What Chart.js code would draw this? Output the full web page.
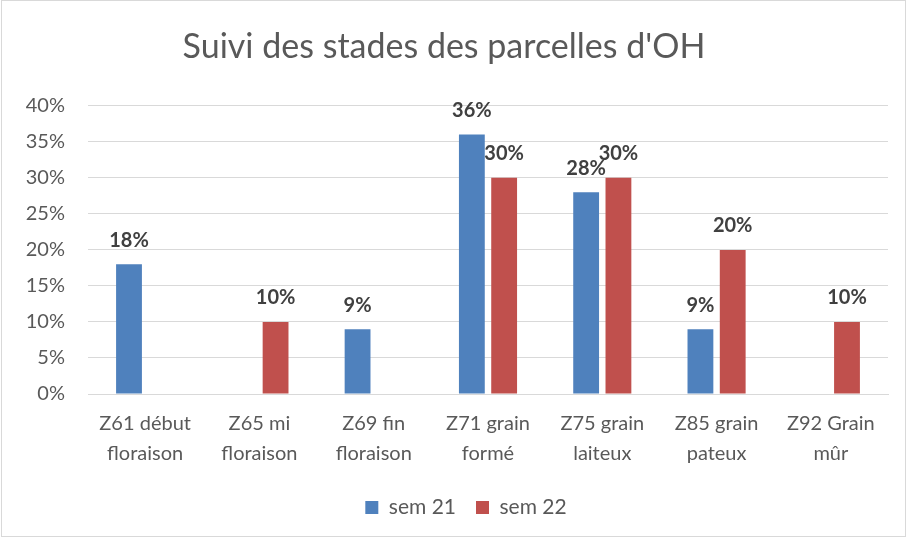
<!DOCTYPE html>
<html>
<head>
<meta charset="utf-8">
<script src="https://cdn.jsdelivr.net/npm/chart.js@4/dist/chart.umd.min.js"></script>
<style>
  html, body { margin: 0; padding: 0; background: #fff; }
  #wrap { width: 907px; height: 537px; }
</style>
</head>
<body>
<div id="wrap"><canvas id="stades"></canvas></div>
<script>
// categories (two lines each)
var categories = [
    ['Z61 début', 'floraison'],
    ['Z65 mi', 'floraison'],
    ['Z69 fin', 'floraison'],
    ['Z71 grain', 'formé'],
    ['Z75 grain', 'laiteux'],
    ['Z85 grain', 'pateux'],
    ['Z92 Grain', 'mûr']
];
var sem21 = [18, null, 9, 36, 28, 9, null];
var sem22 = [null, 10, null, 30, 30, 20, 10];
var yTicks = [0, 5, 10, 15, 20, 25, 30, 35, 40];

var FONT = 'Lato, "Open Sans", sans-serif';

// white background + thin outer border
var frame = {
    id: 'frame',
    beforeDraw: function (chart) {
        var c = chart.ctx;
        c.save();
        c.fillStyle = '#fff';
        c.fillRect(0, 0, chart.width, chart.height);
        c.strokeStyle = '#d9d9d9';
        c.lineWidth = 1;
        c.strokeRect(1.5, 0.5, chart.width - 3, chart.height - 1);
        c.restore();
    },
    // legend sits a bit right of centre and higher in the original
    afterLayout: function (chart) {
        chart.legend.left += 22;
        chart.legend.right += 22;
        chart.legend.top -= 9;
        chart.legend.bottom -= 9;
    }
};

// value labels above the bars
var valueLabels = {
    id: 'valueLabels',
    afterDatasetsDraw: function (chart) {
        var c = chart.ctx;
        c.save();
        c.font = 'bold 20px ' + FONT;
        c.fillStyle = '#404040';
        c.textAlign = 'center';
        c.textBaseline = 'middle';
        chart.data.datasets.forEach(function (ds, i) {
            chart.getDatasetMeta(i).data.forEach(function (bar, j) {
                if (ds.data[j] == null) return;
                c.fillText(ds.data[j] + '%', bar.x, bar.y - 24);
            });
        });
        c.restore();
    }
};

var ctx = document.getElementById('stades').getContext('2d');
var chart = new Chart(ctx, {
    type: 'bar',
    data: {
        labels: categories,
        datasets: [{
            label: 'sem 21',
            data: sem21,
            backgroundColor: '#4F81BD',
            categoryPercentage: 0.565,
            barPercentage: 0.8
        }, {
            label: 'sem 22',
            data: sem22,
            backgroundColor: '#C0504D',
            categoryPercentage: 0.565,
            barPercentage: 0.8
        }]
    },
    options: {
        responsive: true,
        maintainAspectRatio: false,
        animation: false,
        layout: { padding: { left: 0, right: 19, top: 0, bottom: 0 } },
        plugins: {
            title: {
                display: true,
                text: "Suivi des stades des parcelles d'OH",
                color: '#595959',
                font: { family: FONT, size: 34, weight: 'normal' },
                padding: { top: 27, bottom: 38 }
            },
            legend: {
                position: 'bottom',
                labels: {
                    color: '#595959',
                    font: { family: FONT, size: 21 },
                    boxWidth: 13,
                    boxHeight: 13,
                    padding: 20
                }
            },
            tooltip: { enabled: false }
        },
        scales: {
            x: {
                grid: { display: false, drawTicks: false },
                border: { color: '#d9d9d9' },
                ticks: {
                    color: '#595959',
                    font: { family: FONT, size: 20, lineHeight: 1.5 },
                    padding: 15,
                    maxRotation: 0
                },
                afterFit: function (s) { s.height = 92; }
            },
            y: {
                min: 0,
                max: 40,
                afterBuildTicks: function (s) {
                    s.ticks = yTicks.map(function (v) { return { value: v }; });
                },
                grid: { color: '#d9d9d9', drawTicks: false },
                border: { display: false },
                ticks: {
                    color: '#595959',
                    font: { family: FONT, size: 20 },
                    padding: 23,
                    callback: function (v) { return v + '%'; }
                },
                afterFit: function (s) { s.width = 88; }
            }
        }
    },
    plugins: [frame, valueLabels]
});
</script>
</body>
</html>
